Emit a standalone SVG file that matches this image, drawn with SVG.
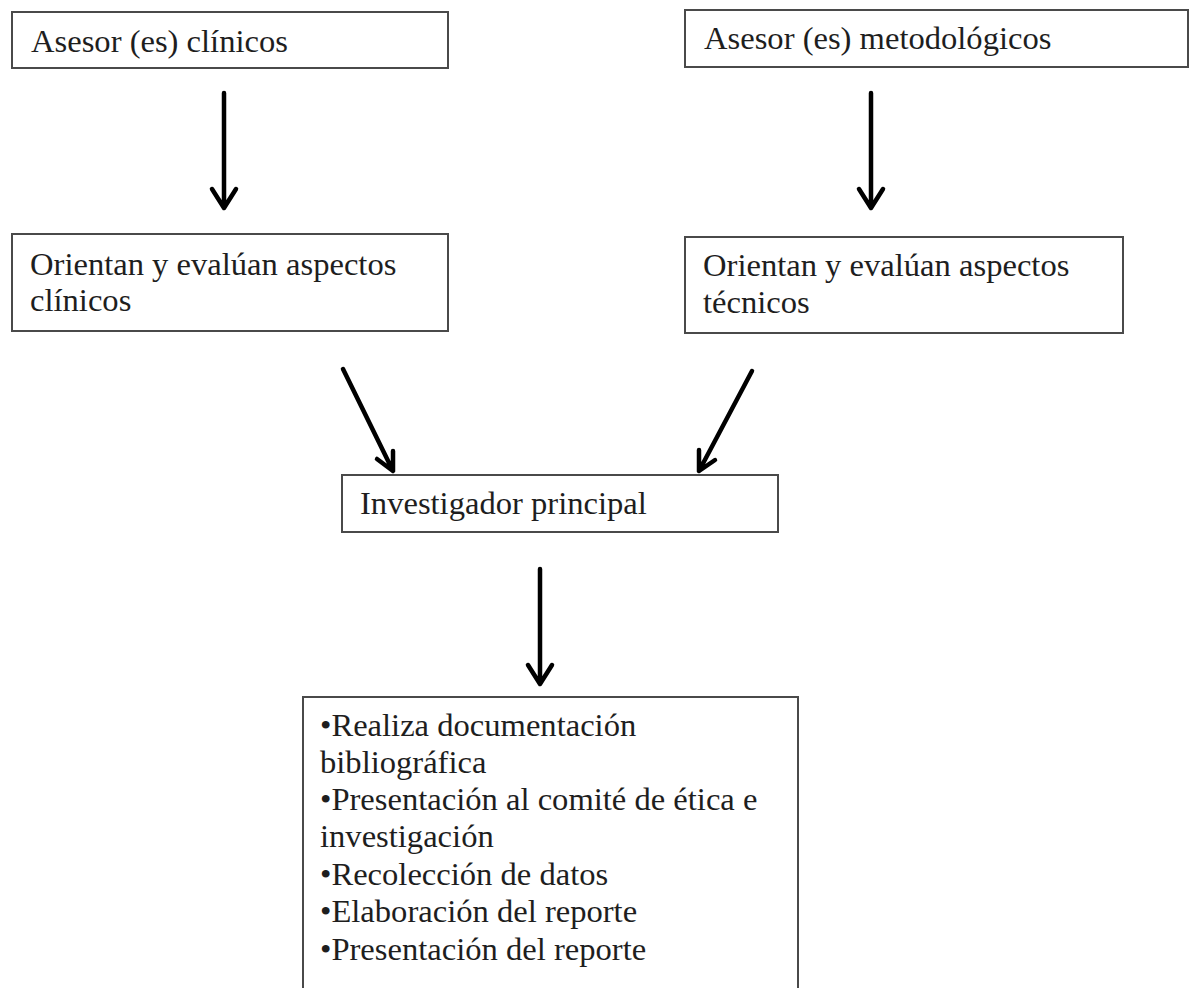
<svg xmlns="http://www.w3.org/2000/svg" width="1194" height="988" viewBox="0 0 1194 988">
<style>
.box{fill:#fff;stroke:#4a4a4a;stroke-width:2}
.t{font-family:"Liberation Serif","Times New Roman",serif;font-size:32.6px;fill:#1e1e1e}
.c{stroke:#000;stroke-width:4.5;fill:none;stroke-linecap:round;stroke-linejoin:round}
</style>
<rect width="1194" height="988" fill="#fff"/>
<g id="n1"><rect class="box" x="12" y="12" width="436" height="56"/><text class="t" x="31" y="52">Asesor (es) clínicos</text></g>
<g id="n2"><rect class="box" x="685" y="10" width="503" height="57"/><text class="t" x="704" y="49">Asesor (es) metodológicos</text></g>
<g id="n3"><rect class="box" x="12" y="234" width="436" height="97"/><text class="t" x="30" y="275">Orientan y evalúan aspectos</text><text class="t" x="30" y="311">clínicos</text></g>
<g id="n4"><rect class="box" x="685" y="237" width="438" height="96"/><text class="t" x="703" y="276">Orientan y evalúan aspectos</text><text class="t" x="703" y="313">técnicos</text></g>
<g id="n5"><rect class="box" x="342" y="475" width="436" height="57"/><text class="t" x="360" y="514">Investigador principal</text></g>
<g id="n6"><rect class="box" x="303" y="697" width="495" height="300"/>
<text class="t" x="320" y="736">•Realiza documentación</text>
<text class="t" x="320" y="773">bibliográfica</text>
<text class="t" x="320" y="810">•Presentación al comité de ética e</text>
<text class="t" x="320" y="847">investigación</text>
<text class="t" x="320" y="885">•Recolección de datos</text>
<text class="t" x="320" y="922">•Elaboración del reporte</text>
<text class="t" x="320" y="960">•Presentación del reporte</text>
</g>
<g id="connectors">
<path class="c" d="M224 93V208M212 189L224 208L236 189"/>
<path class="c" d="M871 93V208M859 189L871 208L883 189"/>
<path class="c" d="M343 369L393 471M377 459L393 471L393 451"/>
<path class="c" d="M752 371L699 471M699 450L699 471L715 460"/>
<path class="c" d="M540 569V684M528 665L540 684L552 665"/>
</g>
</svg>
